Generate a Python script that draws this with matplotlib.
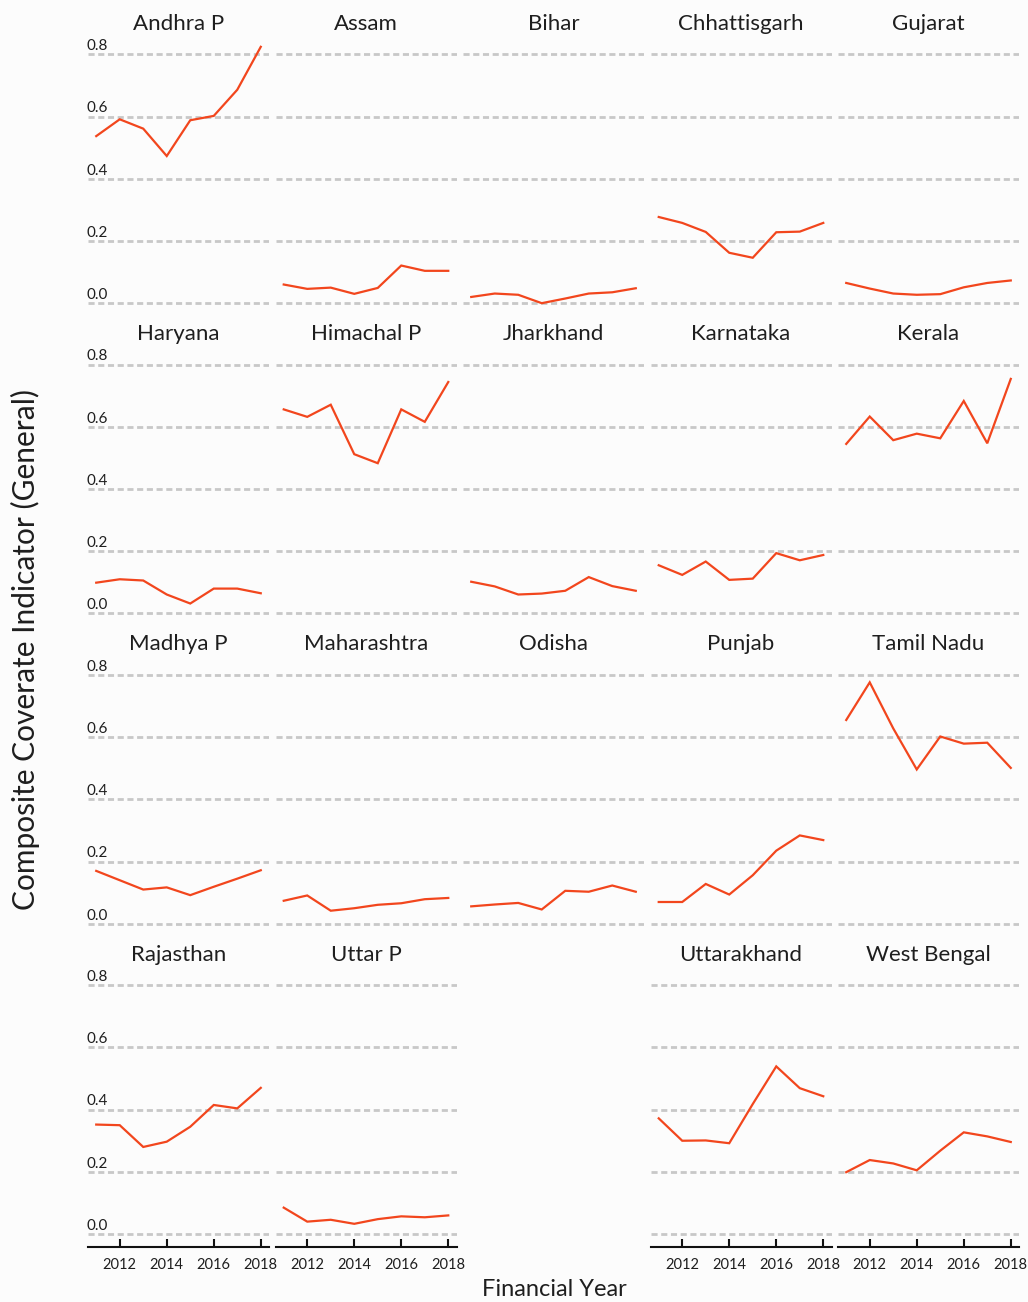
import matplotlib
matplotlib.use("Agg")
import matplotlib.pyplot as plt
import matplotlib.transforms as mtransforms

plt.rcParams['font.family'] = ['Lato', 'DejaVu Sans']

years = [2011, 2012, 2013, 2014, 2015, 2016, 2017, 2018]

# composite indicator per state, FY 2011-2018
andhra_p = [0.537, 0.591, 0.561, 0.473, 0.588, 0.602, 0.686, 0.824]
assam = [0.060, 0.046, 0.050, 0.030, 0.049, 0.121, 0.104, 0.104]
bihar = [0.020, 0.031, 0.027, 0.000, 0.015, 0.031, 0.035, 0.048]
chhattisgarh = [0.277, 0.258, 0.229, 0.162, 0.146, 0.228, 0.230, 0.258]
gujarat = [0.065, 0.047, 0.031, 0.027, 0.029, 0.051, 0.065, 0.073]
haryana = [0.099, 0.110, 0.106, 0.061, 0.032, 0.080, 0.080, 0.065]
himachal_p = [0.656, 0.632, 0.671, 0.512, 0.483, 0.656, 0.616, 0.744]
jharkhand = [0.102, 0.087, 0.061, 0.064, 0.073, 0.117, 0.088, 0.073]
karnataka = [0.155, 0.124, 0.167, 0.108, 0.112, 0.194, 0.171, 0.188]
kerala = [0.545, 0.633, 0.557, 0.578, 0.563, 0.683, 0.547, 0.754]
madhya_p = [0.170, 0.140, 0.110, 0.117, 0.092, 0.119, 0.145, 0.172]
maharashtra = [0.074, 0.091, 0.042, 0.050, 0.061, 0.066, 0.079, 0.083]
odisha = [0.056, 0.062, 0.067, 0.046, 0.106, 0.103, 0.123, 0.103]
punjab = [0.070, 0.070, 0.128, 0.094, 0.156, 0.235, 0.284, 0.269]
tamil_nadu = [0.655, 0.776, 0.628, 0.496, 0.602, 0.579, 0.582, 0.501]
rajasthan = [0.352, 0.350, 0.280, 0.297, 0.345, 0.415, 0.404, 0.470]
uttar_p = [0.085, 0.040, 0.046, 0.033, 0.048, 0.057, 0.054, 0.060]
uttarakhand = [0.372, 0.300, 0.301, 0.292, 0.418, 0.539, 0.469, 0.443]
west_bengal = [0.199, 0.238, 0.227, 0.205, 0.268, 0.327, 0.314, 0.296]

# facet order, row by row; None leaves an empty cell
states = ['Andhra P', 'Assam', 'Bihar', 'Chhattisgarh', 'Gujarat',
          'Haryana', 'Himachal P', 'Jharkhand', 'Karnataka', 'Kerala',
          'Madhya P', 'Maharashtra', 'Odisha', 'Punjab', 'Tamil Nadu',
          'Rajasthan', 'Uttar P', None, 'Uttarakhand', 'West Bengal']
series = [andhra_p, assam, bihar, chhattisgarh, gujarat,
          haryana, himachal_p, jharkhand, karnataka, kerala,
          madhya_p, maharashtra, odisha, punjab, tamil_nadu,
          rajasthan, uttar_p, None, uttarakhand, west_bengal]

y_ticks = [0.0, 0.2, 0.4, 0.6, 0.8]
x_ticks = [2012, 2014, 2016, 2018]

LINE = '#f2461d'
GRID = '#c8c8c8'
BG = '#fcfcfc'
TXT = '#1e1e1e'

# shared scales with 5% padding
all_vals = [v for s in series if s for v in s]
lo, hi = min(all_vals), max(all_vals)
ypad = (hi - lo) * 0.05
ylim = (lo - ypad, hi + ypad)
xpad = (years[-1] - years[0]) * 0.05
xlim = (years[0] - xpad, years[-1] + xpad)

W, H = 1028, 1302
fig = plt.figure(figsize=(W / 100, H / 100), dpi=100, facecolor=BG)

ncol = 5
for i, (name, vals) in enumerate(zip(states, series)):
    if name is None:
        continue
    r, c = divmod(i, ncol)
    left = 88 + 187.5 * c
    top = 34 + 310.3 * r
    ax = fig.add_axes([left / W, 1 - (top + 282) / H, 181 / W, 282 / H])
    ax.set_facecolor(BG)
    ax.plot(years, vals, color=LINE, lw=1.6, solid_joinstyle='miter')
    ax.set_xlim(*xlim)
    ax.set_ylim(*ylim)

    ax.set_yticks(y_ticks)
    ax.grid(axis='y', color=GRID, lw=2, linestyle=(0, (2.2, 1.3)))
    ax.set_axisbelow(True)
    ax.tick_params(axis='y', length=0, labelleft=False)
    for s in ['top', 'right', 'left']:
        ax.spines[s].set_visible(False)

    ax.set_title(name, fontsize=16, color=TXT, pad=3)

    # y labels sit on top of the gridlines in the first column
    if c == 0:
        trans = mtransforms.blended_transform_factory(ax.transAxes, ax.transData)
        trans = mtransforms.offset_copy(trans, fig=fig, y=3, units='points')
        for v in y_ticks:
            ax.text(-0.011, v, f'{v:.1f}', transform=trans, ha='left',
                    va='baseline', fontsize=11, color=TXT)

    # x axis only on the bottom row
    bottom_row = (r == 3)
    ax.set_xticks(x_ticks)
    if bottom_row:
        ax.spines['bottom'].set_linewidth(1.5)
        ax.spines['bottom'].set_color('#111111')
        ax.tick_params(axis='x', direction='in', length=6, width=1.5,
                       color='#111111', pad=8, labelsize=10.5,
                       labelcolor=TXT)
    else:
        ax.spines['bottom'].set_visible(False)
        ax.tick_params(axis='x', length=0, labelbottom=False)

fig.text(25 / W, 1 - 650 / H, 'Composite Coverate Indicator (General)',
         rotation=90, ha='center', va='center', fontsize=21.5, color=TXT)
fig.text(554 / W, 1 - 1289 / H, 'Financial Year', ha='center', va='center',
         fontsize=17, color=TXT)

fig.savefig('out.png', dpi=100, facecolor=BG)
